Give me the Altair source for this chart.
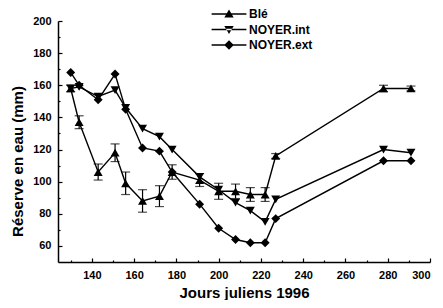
import altair as alt
import pandas as pd

days = [130, 134, 143, 151, 156, 164, 172, 178, 191, 200, 208, 215, 222, 227, 278, 291]
ble = [158, 137, 106, 118, 99, 88, 91, 106, 101, 94, 94, 92, 92, 116, 158, 158]
ble_err = [2, 4, 5, 5.5, 7, 7, 6.5, 4.5, 4, 5, 4.5, 4.3, 4.3, 1.5, 2, 1.5]
noyer_int = [158, 159, 153, 157, 146, 133, 128, 120, 103, 95, 87, 82, 75, 89, 120, 118]
noyer_ext = [168, 160, 151, 167, 145, 121, 119, 106, 86, 71, 64, 62, 62, 77, 113, 113]
series = ["Blé", "NOYER.int", "NOYER.ext"]

x_labels = list(range(140, 301, 20))
y_labels = list(range(60, 201, 20))

rows = []
for name, vals in zip(series, [ble, noyer_int, noyer_ext]):
    for d, v in zip(days, vals):
        rows.append({"day": d, "val": v, "series": name})
df = pd.DataFrame(rows)

err = pd.DataFrame({
    "day": days,
    "lo": [v - e for v, e in zip(ble, ble_err)],
    "hi": [v + e for v, e in zip(ble, ble_err)],
})

W, H = 372, 241
FONT = "Liberation Sans"

xs = alt.Scale(domain=[124, 300], nice=False, zero=False)
ys = alt.Scale(domain=[50, 200], nice=False, zero=False)

bottom_axis = alt.Axis(
    orient="bottom", values=x_labels, title="Jours juliens 1996", ticks=False,
    labelPadding=7, labelFont=FONT, labelFontSize=11, labelFontWeight="bold",
    labelColor="black", titleFont=FONT, titleFontSize=15, titleFontWeight="bold",
    titleColor="black", titleY=30, titleBaseline="middle",
    domainColor="black", domainWidth=1.5, grid=False,
)
left_axis = alt.Axis(
    orient="left", values=y_labels, title="Réserve en eau (mm)", ticks=False,
    labelPadding=7, labelFont=FONT, labelFontSize=11, labelFontWeight="bold",
    labelColor="black", titleFont=FONT, titleFontSize=15, titleFontWeight="bold",
    titleColor="black", titleX=-41, titleY=140, titleBaseline="middle",
    domainColor="black", domainWidth=1.5, grid=False,
)
tick_size = {"condition": {"test": "datum.value % 20 === 0", "value": 4}, "value": 2}
top_ticks = alt.Axis(
    orient="top", offset=-H, values=list(range(130, 301, 10)), labels=False,
    domain=False, tickSize=tick_size, tickColor="black", tickWidth=1.2,
    title=None, grid=False,
)
right_ticks = alt.Axis(
    orient="right", offset=-W, values=list(range(60, 201, 10)), labels=False,
    domain=False, tickSize=tick_size, tickColor="black", tickWidth=1.2,
    title=None, grid=False,
)

lines = alt.Chart(df).mark_line(color="black", strokeWidth=1.4).encode(
    x=alt.X("day:Q", scale=xs, axis=bottom_axis),
    y=alt.Y("val:Q", scale=ys, axis=left_axis),
    detail="series:N",
)

bars = alt.Chart(err).mark_rule(color="black", strokeWidth=1.2).encode(
    x=alt.X("day:Q", scale=xs, axis=None),
    y=alt.Y("lo:Q", scale=ys, axis=None),
    y2="hi:Q",
)
cap_lo = alt.Chart(err).mark_tick(color="black", orient="horizontal", size=9, thickness=1.2).encode(
    x=alt.X("day:Q", scale=xs, axis=None),
    y=alt.Y("lo:Q", scale=ys, axis=None),
)
cap_hi = alt.Chart(err).mark_tick(color="black", orient="horizontal", size=9, thickness=1.2).encode(
    x=alt.X("day:Q", scale=xs, axis=None),
    y=alt.Y("hi:Q", scale=ys, axis=None),
)

points = alt.Chart(df).mark_point(filled=True, size=80, color="black", opacity=1).encode(
    x=alt.X("day:Q", scale=xs, axis=top_ticks),
    y=alt.Y("val:Q", scale=ys, axis=right_ticks),
    shape=alt.Shape("series:N", scale=alt.Scale(domain=series,
                    range=["triangle-up", "triangle-down", "diamond"]), legend=None),
)

# legend glyphs: short line with the marker in its middle (unit r = 6 px)
line_part = "M-2.9,-0.11H2.9V0.11H-2.9Z "
legend_paths = [
    line_part + "M0,-0.75L0.78,0.6L-0.78,0.6Z",
    line_part + "M0,0.75L0.78,-0.6L-0.78,-0.6Z",
    line_part + "M0,-0.8L0.8,0L0,0.8L-0.8,0Z",
]

legend_layer = alt.Chart(df).transform_filter("datum.day < 0").mark_point(
    filled=True, color="black"
).encode(
    x=alt.X("day:Q", scale=xs, axis=None),
    y=alt.Y("val:Q", scale=ys, axis=None),
    shape=alt.Shape("series:N", scale=alt.Scale(domain=series, range=legend_paths),
                    legend=alt.Legend(
                        title=None, orient="none", legendX=165, legendY=-13,
                        symbolSize=144, symbolFillColor="black", symbolStrokeWidth=0,
                        symbolOpacity=1, labelFont=FONT, labelFontSize=12,
                        labelFontWeight="bold", labelColor="black", labelOffset=14,
                        rowPadding=3.5, padding=0,
                    )),
)

chart = alt.layer(lines, bars, cap_lo, cap_hi, points, legend_layer).resolve_scale(
    shape="independent"
).resolve_axis(x="independent", y="independent").properties(
    width=W, height=H,
    autosize=alt.AutoSizeParams(type="none"),
    padding={"left": 50, "top": 13, "right": 5, "bottom": 38},
    background="white",
).configure_view(stroke=None)

chart.save("out.html", embed_options={"renderer": "svg", "actions": False})
